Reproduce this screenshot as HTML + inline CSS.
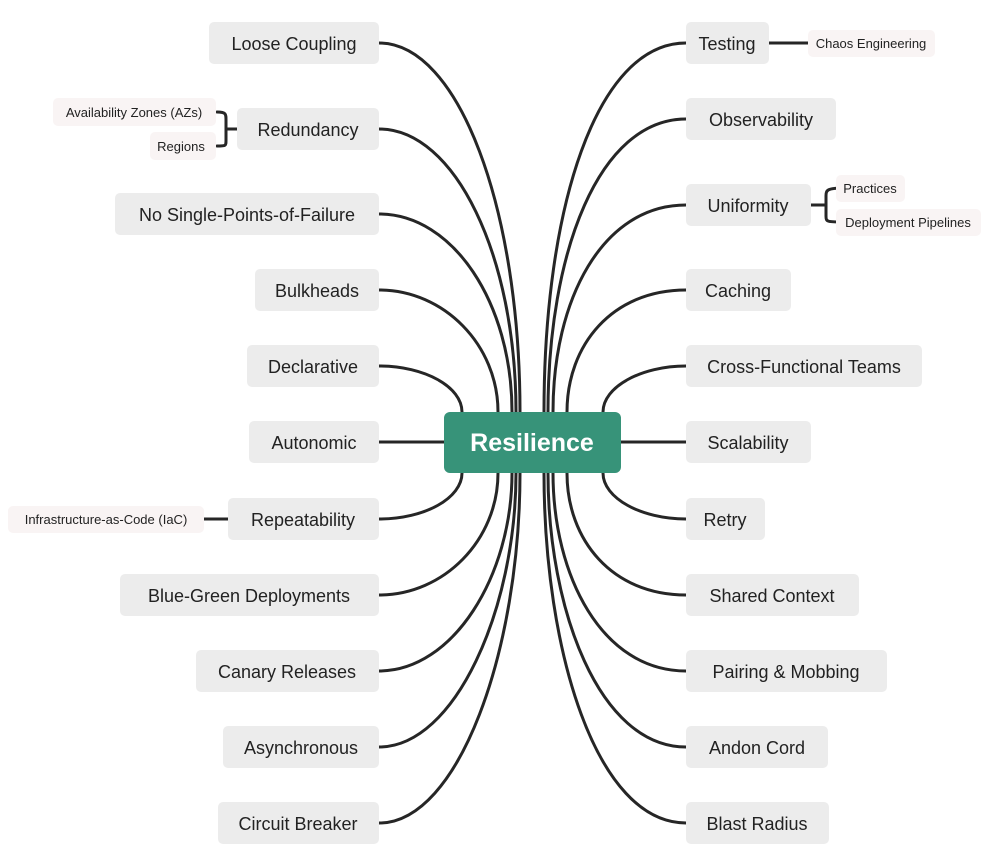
<!DOCTYPE html>
<html><head><meta charset="utf-8"><style>
html,body{margin:0;padding:0;background:#fff;}
svg{display:block;}
text{font-family:"Liberation Sans",sans-serif;fill:#222;}
</style></head><body>
<svg width="1000" height="861" viewBox="0 0 1000 861" xmlns="http://www.w3.org/2000/svg">
<g fill="none" stroke="#262626" stroke-width="3" stroke-linecap="round">
<!-- left top -->
<path d="M379,43 C459,43 520,209 520,412"/>
<path d="M379,129 C455,129 516,256 516,412"/>
<path d="M379,214 C453,214 512,303 512,412"/>
<path d="M379,290 C444,290 498,345 498,412"/>
<path d="M379,366 C425,366 462,387 462,412"/>
<line x1="379" y1="442" x2="450" y2="442"/>
<!-- left bottom -->
<path d="M379,519 C425,519 462,498 462,473"/>
<path d="M379,595 C444,595 498,540 498,473"/>
<path d="M379,671 C453,671 512,576 512,473"/>
<path d="M379,747 C455,747 516,609 516,473"/>
<path d="M379,823 C459,823 520,650 520,473"/>
<!-- right top -->
<path d="M686,43 C596,43 544,209 544,412"/>
<path d="M686,119 C599,119 548,252 548,412"/>
<path d="M686,205 C602,205 553,300 553,412"/>
<path d="M686,290 C612,290 567,345 567,412"/>
<path d="M686,366 C641,366 603,387 603,412"/>
<line x1="615" y1="442" x2="686" y2="442"/>
<!-- right bottom -->
<path d="M686,519 C641,519 603,498 603,473"/>
<path d="M686,595 C612,595 567,540 567,473"/>
<path d="M686,671 C602,671 553,576 553,473"/>
<path d="M686,747 C599,747 548,609 548,473"/>
<path d="M686,823 C596,823 544,650 544,473"/>
<!-- sub connectors -->
<line x1="769" y1="43" x2="808" y2="43"/>
<line x1="204" y1="519" x2="228" y2="519"/>
<path d="M217,112 C226,112 226,114 226,120 L226,140 C226,146 226,146 217,146"/>
<line x1="226" y1="129" x2="237" y2="129"/>
<path d="M845,188 C827,188 826,190 826,196 L826,216 C826,222 827,222 845,222"/>
<line x1="811" y1="205" x2="826" y2="205"/>
</g>
<g fill="#ececec">
<rect x="209" y="22" width="170" height="42" rx="5"/>
<rect x="237" y="108" width="142" height="42" rx="5"/>
<rect x="115" y="193" width="264" height="42" rx="5"/>
<rect x="255" y="269" width="124" height="42" rx="5"/>
<rect x="247" y="345" width="132" height="42" rx="5"/>
<rect x="249" y="421" width="130" height="42" rx="5"/>
<rect x="228" y="498" width="151" height="42" rx="5"/>
<rect x="120" y="574" width="259" height="42" rx="5"/>
<rect x="196" y="650" width="183" height="42" rx="5"/>
<rect x="223" y="726" width="156" height="42" rx="5"/>
<rect x="218" y="802" width="161" height="42" rx="5"/>
<rect x="686" y="22" width="83" height="42" rx="5"/>
<rect x="686" y="98" width="150" height="42" rx="5"/>
<rect x="686" y="184" width="125" height="42" rx="5"/>
<rect x="686" y="269" width="105" height="42" rx="5"/>
<rect x="686" y="345" width="236" height="42" rx="5"/>
<rect x="686" y="421" width="125" height="42" rx="5"/>
<rect x="686" y="498" width="79" height="42" rx="5"/>
<rect x="686" y="574" width="173" height="42" rx="5"/>
<rect x="686" y="650" width="201" height="42" rx="5"/>
<rect x="686" y="726" width="142" height="42" rx="5"/>
<rect x="686" y="802" width="143" height="42" rx="5"/>
</g>
<g fill="#f9f4f4">
<rect x="53" y="98" width="163" height="28" rx="5"/>
<rect x="150" y="132" width="66" height="28" rx="5"/>
<rect x="808" y="30" width="127" height="27" rx="5"/>
<rect x="836" y="175" width="69" height="27" rx="5"/>
<rect x="836" y="209" width="145" height="27" rx="5"/>
<rect x="8" y="506" width="196" height="27" rx="5"/>
</g>
<rect x="444" y="412" width="177" height="61" rx="6" fill="#379379"/>
<text x="532" y="451" text-anchor="middle" font-size="25" font-weight="bold" style="fill:#fff">Resilience</text>
<g font-size="18" text-anchor="middle">
<text x="294" y="50">Loose Coupling</text>
<text x="308" y="136">Redundancy</text>
<text x="247" y="221">No Single-Points-of-Failure</text>
<text x="317" y="297">Bulkheads</text>
<text x="313" y="373">Declarative</text>
<text x="314" y="449">Autonomic</text>
<text x="303" y="526">Repeatability</text>
<text x="249" y="602">Blue-Green Deployments</text>
<text x="287" y="678">Canary Releases</text>
<text x="301" y="754">Asynchronous</text>
<text x="298" y="830">Circuit Breaker</text>
<text x="727" y="50">Testing</text>
<text x="761" y="126">Observability</text>
<text x="748" y="212">Uniformity</text>
<text x="738" y="297">Caching</text>
<text x="804" y="373">Cross-Functional Teams</text>
<text x="748" y="449">Scalability</text>
<text x="725" y="526">Retry</text>
<text x="772" y="602">Shared Context</text>
<text x="786" y="678">Pairing &amp; Mobbing</text>
<text x="757" y="754">Andon Cord</text>
<text x="757" y="830">Blast Radius</text>
</g>
<g font-size="13" text-anchor="middle">
<text x="134" y="117">Availability Zones (AZs)</text>
<text x="181" y="151">Regions</text>
<text x="871" y="48">Chaos Engineering</text>
<text x="870" y="193">Practices</text>
<text x="908" y="227">Deployment Pipelines</text>
<text x="106" y="524">Infrastructure-as-Code (IaC)</text>
</g>
</svg>
</body></html>
